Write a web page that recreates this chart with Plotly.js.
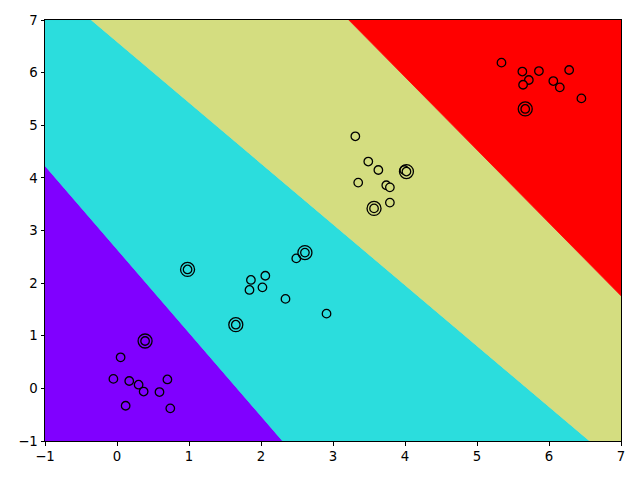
<!DOCTYPE html>
<html>
<head>
<meta charset="utf-8">
<script src="https://cdn.plot.ly/plotly-3.0.1.min.js"></script>
<style>html,body{margin:0;padding:0;background:#fff;}#chart{width:640px;height:480px;}</style>
</head>
<body>
<div id="chart"></div>
<script>
// Decision regions (polygon vertices)
const regionNames = ["class 0", "class 1", "class 2", "class 3"];
const regionColors = ["#8000ff", "#2bdddd", "#d4dd80", "#ff0000"];
const regionX = [
  [-1, 2.30, -1],
  [-1, 2.30, 6.565, -0.356, -1],
  [-0.356, 6.565, 7, 7, 3.22],
  [3.22, 7, 7]
];
const regionY = [
  [-1, -1, 4.23],
  [4.23, -1, -1, 7, 7],
  [7, -1, -1, 1.76, 7],
  [7, 1.76, 7]
];

// Sample points per class
const class0X = [0.05, -0.05, 0.17, 0.30, 0.37, 0.12, 0.59, 0.70, 0.74, 0.39];
const class0Y = [0.59, 0.18, 0.14, 0.07, -0.06, -0.33, -0.07, 0.17, -0.38, 0.90];
const class1X = [0.98, 1.65, 1.86, 1.84, 2.06, 2.02, 2.34, 2.49, 2.61, 2.91];
const class1Y = [2.26, 1.21, 2.06, 1.87, 2.14, 1.92, 1.70, 2.47, 2.58, 1.42];
const class2X = [3.31, 3.49, 3.63, 3.35, 3.74, 3.79, 3.79, 3.57, 3.99, 4.02];
const class2Y = [4.79, 4.31, 4.15, 3.91, 3.86, 3.82, 3.53, 3.42, 4.15, 4.12];
const class3X = [5.34, 5.63, 5.86, 5.72, 5.64, 6.06, 6.15, 6.28, 6.45, 5.67];
const class3Y = [6.19, 6.02, 6.03, 5.86, 5.77, 5.84, 5.72, 6.05, 5.51, 5.31];

// Highlighted (double-circled) points
const highlightX = [0.39, 0.98, 1.65, 2.61, 3.57, 4.02, 5.67];
const highlightY = [0.90, 2.26, 1.21, 2.58, 3.42, 4.12, 5.31];

const tickVals = [-1, 0, 1, 2, 3, 4, 5, 6, 7];

const traces = [];
for (let i = 0; i < regionX.length; i++) {
  traces.push({
    type: "scatter", mode: "lines", name: regionNames[i],
    x: regionX[i], y: regionY[i], fill: "toself",
    fillcolor: regionColors[i],
    line: {color: regionColors[i], width: 0.8},
    hoverinfo: "skip", showlegend: false
  });
}
const classX = [class0X, class1X, class2X, class3X];
const classY = [class0Y, class1Y, class2Y, class3Y];
for (let i = 0; i < classX.length; i++) {
  traces.push({
    type: "scatter", mode: "markers",
    x: classX[i], y: classY[i],
    marker: {size: 8.5, color: regionColors[i], line: {color: "#000", width: 1.3}},
    showlegend: false
  });
}
traces.push({
  type: "scatter", mode: "markers",
  x: highlightX, y: highlightY,
  marker: {size: 14, symbol: "circle-open", color: "#000", line: {color: "#000", width: 1.3}},
  showlegend: false
});

const axisCommon = {
  tickvals: tickVals, ticks: "outside", ticklen: 3.5, tickwidth: 1, tickcolor: "#000",
  showline: true, mirror: true, linecolor: "#000", linewidth: 1,
  showgrid: false, zeroline: false,
  tickfont: {family: "DejaVu Sans", size: 13.3, color: "#000"}
};

const layout = {
  width: 640, height: 480,
  margin: {l: 45, r: 19, t: 20, b: 39},
  paper_bgcolor: "#fff", plot_bgcolor: "#fff",
  xaxis: Object.assign({range: [-1, 7]}, axisCommon),
  yaxis: Object.assign({range: [-1, 7]}, axisCommon),
  showlegend: false
};

Plotly.newPlot("chart", traces, layout, {displayModeBar: false, staticPlot: true});
</script>
</body>
</html>
